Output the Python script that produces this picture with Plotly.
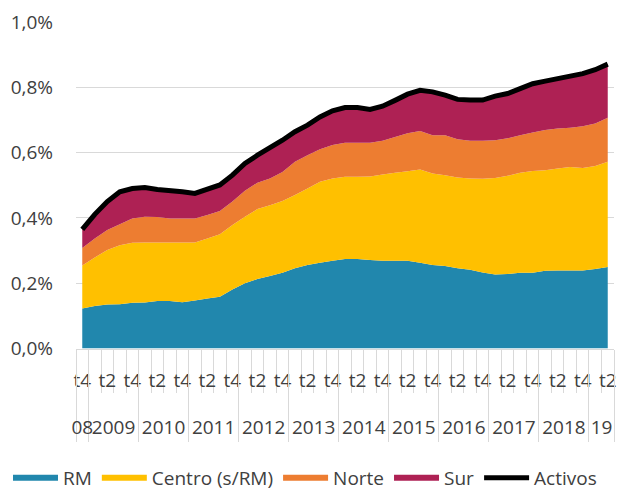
import plotly.graph_objects as go

# ---- categories (quarters) ----
periods = ["2008-t4"] + [f"{y}-t{q}" for y in range(2009, 2019) for q in (1, 2, 3, 4)] + ["2019-t1", "2019-t2"]
year_labels = ["08", "2009", "2010", "2011", "2012", "2013", "2014", "2015", "2016", "2017", "2018", "19"]

# ---- series (% ) ----
rm = [0.123, 0.130, 0.135, 0.136, 0.140, 0.141, 0.146, 0.146, 0.142, 0.147, 0.153, 0.159, 0.181, 0.200,
      0.213, 0.222, 0.232, 0.246, 0.256, 0.263, 0.269, 0.274, 0.274, 0.271, 0.269, 0.269, 0.269, 0.263,
      0.256, 0.253, 0.246, 0.241, 0.233, 0.227, 0.228, 0.232, 0.232, 0.238, 0.239, 0.239, 0.239, 0.244, 0.250]
centro = [0.131, 0.149, 0.167, 0.180, 0.184, 0.184, 0.179, 0.179, 0.183, 0.178, 0.184, 0.191, 0.197, 0.204,
          0.214, 0.217, 0.220, 0.224, 0.234, 0.248, 0.252, 0.252, 0.252, 0.256, 0.264, 0.269, 0.274, 0.285,
          0.280, 0.278, 0.278, 0.280, 0.287, 0.295, 0.301, 0.306, 0.312, 0.308, 0.312, 0.317, 0.314, 0.315, 0.322]
norte = [0.054, 0.058, 0.061, 0.065, 0.074, 0.079, 0.078, 0.073, 0.073, 0.073, 0.072, 0.071, 0.072, 0.079,
         0.081, 0.082, 0.089, 0.102, 0.102, 0.099, 0.102, 0.104, 0.104, 0.103, 0.103, 0.110, 0.116, 0.118,
         0.117, 0.122, 0.117, 0.115, 0.116, 0.116, 0.115, 0.115, 0.118, 0.123, 0.123, 0.120, 0.128, 0.130, 0.135]
sur = [0.057, 0.074, 0.087, 0.099, 0.092, 0.089, 0.084, 0.087, 0.082, 0.077, 0.078, 0.080, 0.081, 0.084,
       0.084, 0.092, 0.097, 0.092, 0.092, 0.099, 0.105, 0.108, 0.108, 0.102, 0.106, 0.112, 0.120, 0.125,
       0.133, 0.123, 0.122, 0.125, 0.125, 0.135, 0.137, 0.143, 0.149, 0.150, 0.152, 0.157, 0.161, 0.165, 0.164]
activos = [0.365, 0.411, 0.450, 0.480, 0.490, 0.493, 0.487, 0.485, 0.480, 0.475, 0.487, 0.501, 0.531, 0.567,
           0.592, 0.613, 0.638, 0.664, 0.684, 0.709, 0.728, 0.738, 0.738, 0.732, 0.742, 0.760, 0.779, 0.791,
           0.786, 0.776, 0.763, 0.761, 0.761, 0.773, 0.781, 0.796, 0.811, 0.819, 0.826, 0.833, 0.842, 0.854, 0.871]

colors = {"RM": "#2187AD", "Centro (s/RM)": "#FFC000", "Norte": "#ED7D31", "Sur": "#AE2154"}

x = list(range(len(periods)))
yrs = [p.split("-")[0] for p in periods]
qts = [p.split("-")[1] for p in periods]

# inner labels every second quarter
t_pos = [i for i in x if i % 2 == 0]
t_txt = [qts[i] for i in t_pos]
# quarter boundaries
q_bounds = [i - 0.5 for i in x] + [x[-1] + 0.5]
# year boundaries and centers
y_bounds = [-0.5]
y_centers = []
start = 0
for i in range(1, len(x) + 1):
    if i == len(x) or yrs[i] != yrs[i - 1]:
        y_bounds.append(i - 0.5)
        y_centers.append((start + i - 1) / 2)
        start = i

FONT = dict(family="Open Sans", size=19, color="#404040")
GRID = "#d9d9d9"
XR = [-0.5, len(x) - 0.5]

fig = go.Figure()
for name, vals in [("RM", rm), ("Centro (s/RM)", centro), ("Norte", norte), ("Sur", sur)]:
    fig.add_trace(go.Scatter(x=x, y=vals, name=name, mode="none", stackgroup="one",
                             fillcolor=colors[name], hoverinfo="skip"))
fig.add_trace(go.Scatter(x=x, y=activos, name="Activos", mode="lines",
                         line=dict(color="black", width=5), hoverinfo="skip"))
for ax in ["x2", "x3", "x4"]:
    fig.add_trace(go.Scatter(x=[None], y=[None], xaxis=ax, yaxis="y", showlegend=False, hoverinfo="skip"))

fig.update_layout(
    width=644, height=495,
    margin=dict(l=68, r=38, t=14, b=58, autoexpand=False),
    paper_bgcolor="white", plot_bgcolor="white",
    separators=",.",
    font=FONT,
    showlegend=True,
    legend=dict(orientation="h", x=-0.1264, xanchor="left", y=-0.078, yanchor="middle",
                font=FONT, itemwidth=45, traceorder="normal", tracegroupgap=0),
    yaxis=dict(domain=[0.228, 1], range=[0, 1.0], dtick=0.2, tickformat=".1f", ticksuffix="%",
               showgrid=True, gridcolor=GRID, gridwidth=1, zeroline=False, showline=False,
               ticks="", ticklabelstandoff=22, tickfont=FONT, automargin=False),
    xaxis=dict(range=XR, tickmode="array", tickvals=q_bounds, ticks="outside", ticklen=43,
               tickcolor=GRID, tickwidth=1, showticklabels=False, showline=True, linecolor=GRID,
               linewidth=1, showgrid=False, zeroline=False, automargin=False),
    xaxis2=dict(overlaying="x", range=XR, anchor="free", position=0.184, tickmode="array",
                tickvals=t_pos, ticktext=t_txt, ticks="", showline=False, showgrid=False,
                zeroline=False, tickfont=FONT, tickangle=0, automargin=False),
    xaxis3=dict(overlaying="x", range=XR, anchor="y", tickmode="array", tickvals=y_bounds,
                ticks="outside", ticklen=92, tickcolor=GRID, tickwidth=1, showticklabels=False,
                showline=False, showgrid=False, zeroline=False, automargin=False),
    xaxis4=dict(overlaying="x", range=XR, anchor="free", position=0.0733, tickmode="array",
                tickvals=y_centers, ticktext=year_labels, ticks="", showline=False, showgrid=False,
                zeroline=False, tickfont=FONT, tickangle=0, automargin=False),
)

fig.write_html("out.html")
